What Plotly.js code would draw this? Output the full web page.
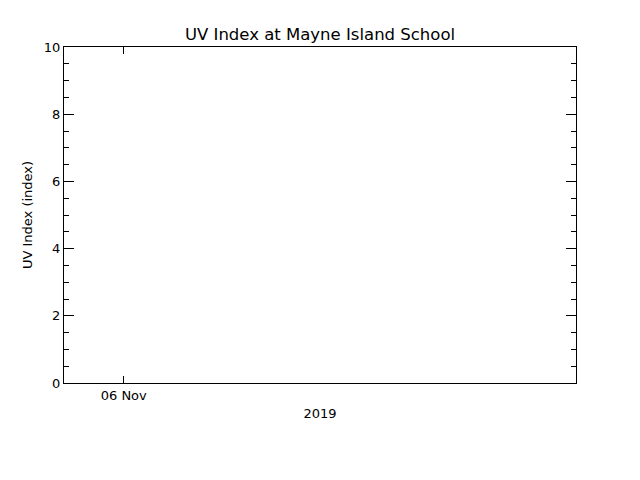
<!DOCTYPE html>
<html>
<head>
<meta charset="utf-8">
<script src="https://cdn.plot.ly/plotly-3.0.1.min.js"></script>
<style>
  html, body { margin: 0; padding: 0; background: #fff; }
  #plot { width: 640px; height: 480px; }
</style>
</head>
<body>
<div id="plot"></div>
<script>
// No UV readings were recorded in this window, so the series is empty
var uvTimes = [];
var uvValues = [];

// Axis extent and ticks
var timeRange = ['2019-11-05 20:30', '2019-11-07 02:30'];
var timeTickVals = ['2019-11-06'];
var timeTickText = ['06 Nov'];
var yearLabel = '2019';
var uvRange = [0, 10];

var fontFamily = "'DejaVu Sans', sans-serif";

var traces = [{
    x: uvTimes,
    y: uvValues,
    type: 'scatter',
    mode: 'lines',
    line: { color: '#000', width: 1 },
    showlegend: false
}];

var layout = {
    width: 640,
    height: 480,
    paper_bgcolor: '#fff',
    plot_bgcolor: '#fff',
    font: { family: fontFamily, size: 13, color: '#000' },
    margin: { t: 47, r: 64, b: 97, l: 64 },
    showlegend: false,
    title: {
        text: 'UV Index at Mayne Island School',
        font: { family: fontFamily, size: 16.5, color: '#000' },
        x: 0.5,
        xanchor: 'center',
        y: 1 - 34 / 480,
        yanchor: 'middle'
    },
    xaxis: {
        type: 'date',
        range: timeRange,
        tickmode: 'array',
        tickvals: timeTickVals,
        ticktext: timeTickText,
        ticks: 'inside',
        ticklen: 7,
        tickwidth: 1,
        tickcolor: '#000',
        showline: true,
        linecolor: '#000',
        linewidth: 1,
        mirror: 'ticks',
        showgrid: false,
        zeroline: false,
        tickfont: { size: 13 },
        title: { text: yearLabel, font: { size: 13 }, standoff: 7 }
    },
    yaxis: {
        range: uvRange,
        dtick: 2,
        ticks: 'inside',
        ticklen: 10,
        tickwidth: 1,
        tickcolor: '#000',
        minor: { dtick: 0.5, ticks: 'inside', ticklen: 5, tickwidth: 1, tickcolor: '#000', showgrid: false },
        showline: true,
        linecolor: '#000',
        linewidth: 1,
        mirror: 'ticks',
        showgrid: false,
        zeroline: false,
        tickfont: { size: 13 },
        title: { text: 'UV Index (index)', font: { size: 13 }, standoff: 8 }
    }
};

var config = { staticPlot: true, displayModeBar: false };

Plotly.newPlot('plot', traces, layout, config);
</script>
</body>
</html>
